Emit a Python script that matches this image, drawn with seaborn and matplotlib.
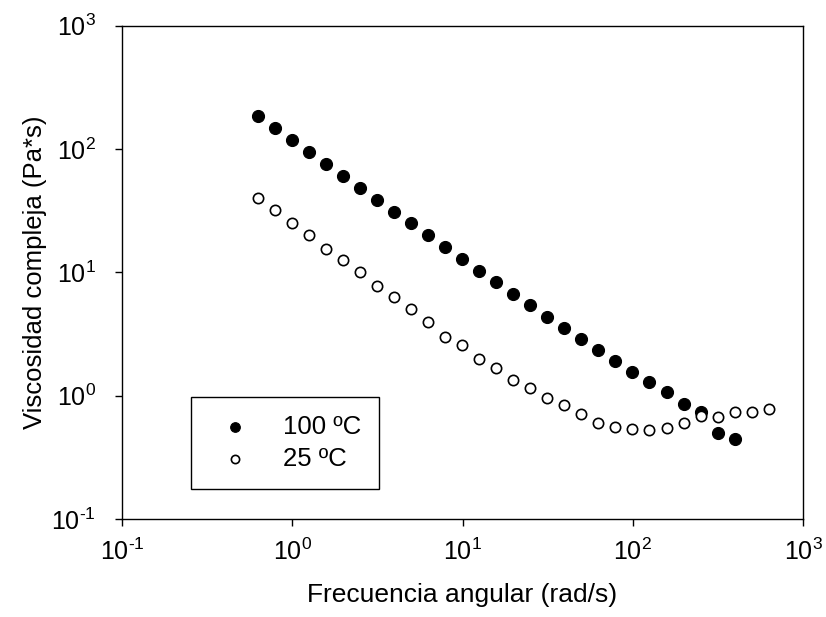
import numpy as np
import pandas as pd
import matplotlib
matplotlib.use("Agg")
import matplotlib.pyplot as plt
import seaborn as sns
from matplotlib.ticker import FuncFormatter

# angular frequency (rad/s), 10 points per decade from 0.628
freq = [0.628, 0.791, 0.995, 1.25, 1.58, 1.99, 2.50, 3.15, 3.96, 4.99,
        6.28, 7.91, 9.95, 12.5, 15.8, 19.9, 25.0, 31.5, 39.6, 49.9,
        62.8, 79.1, 99.5, 125, 158, 199, 250, 315, 396, 499, 628]

# complex viscosity (Pa*s)
visc_100 = [185, 148, 118, 94.6, 75.5, 60.7, 48.5, 38.8, 31.0, 24.9,
            19.9, 16.0, 12.9, 10.3, 8.34, 6.70, 5.40, 4.36, 3.56, 2.90,
            2.34, 1.91, 1.56, 1.28, 1.06, 0.86, 0.74, 0.50, 0.445]
visc_25 = [39.8, 31.8, 25.2, 20.0, 15.5, 12.5, 10.0, 7.75, 6.27, 5.04,
           3.95, 3.01, 2.56, 1.98, 1.67, 1.34, 1.15, 0.95, 0.84, 0.71,
           0.60, 0.553, 0.533, 0.526, 0.549, 0.603, 0.684, 0.675, 0.74, 0.74, 0.775]

df100 = pd.DataFrame({"freq": freq[:len(visc_100)], "visc": visc_100})
df25 = pd.DataFrame({"freq": freq, "visc": visc_25})

sns.set_style("ticks")
plt.rcParams["font.family"] = ["Liberation Sans", "DejaVu Sans"]
plt.rcParams["mathtext.fontset"] = "custom"
plt.rcParams["mathtext.rm"] = "Liberation Sans"
plt.rcParams["text.color"] = "black"
plt.rcParams["axes.labelcolor"] = "black"

fig = plt.figure(figsize=(8.26, 6.17), dpi=100)
ax = fig.add_axes([0.1477, 0.159, 0.8245, 0.7993])

sns.scatterplot(data=df100, x="freq", y="visc", ax=ax, color="black", s=75,
                edgecolor="black", linewidth=0.8, label="100 ºC", zorder=3)
sns.scatterplot(data=df25, x="freq", y="visc", ax=ax, facecolor="white", s=55,
                edgecolor="black", linewidth=1.2, label="25 ºC", zorder=4)

ax.set_xscale("log")
ax.set_yscale("log")
ax.set_xlim(0.1, 1000)
ax.set_ylim(0.1, 1000)
ax.minorticks_off()


def pow10(v, pos):
    e = int(round(np.log10(v)))
    if e < 0:
        return r"$\mathregular{10^{\text{-}%d}}$" % (-e)
    return r"$\mathregular{10^{%d}}$" % e


ax.xaxis.set_major_formatter(FuncFormatter(pow10))
ax.yaxis.set_major_formatter(FuncFormatter(pow10))
ax.tick_params(direction="out", length=5, width=1, labelsize=18, colors="black")
ax.tick_params(axis="x", pad=9)
ax.tick_params(axis="y", pad=14)
for sp in ax.spines.values():
    sp.set_linewidth(1)
    sp.set_color("black")

ax.set_xlabel("Frecuencia angular (rad/s)", fontsize=19, labelpad=13)
ax.set_ylabel("Viscosidad compleja (Pa*s)", fontsize=18.5, labelpad=3)

leg = ax.legend(loc="lower left", bbox_to_anchor=(0.102, 0.061), fontsize=18.5,
                frameon=True, fancybox=False, edgecolor="black", framealpha=1,
                markerscale=0.8, handletextpad=0.85, borderpad=0.7,
                labelspacing=0.3, borderaxespad=0)
leg.get_frame().set_linewidth(1)

fig.savefig("out.png", dpi=100)
